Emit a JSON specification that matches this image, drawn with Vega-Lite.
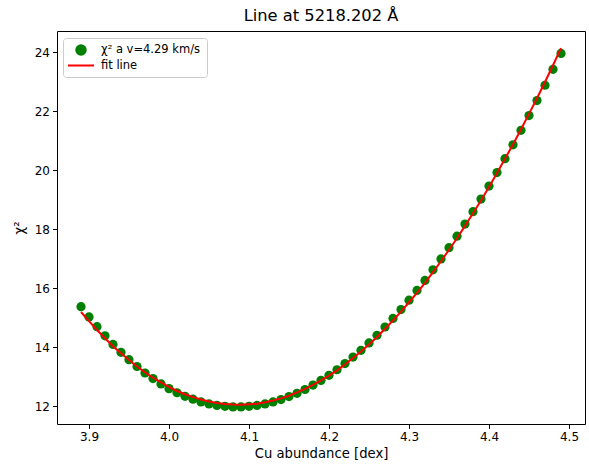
{
  "$schema": "https://vega.github.io/schema/vega-lite/v6.json",
  "autosize": "none",
  "width": 528,
  "height": 393,
  "padding": {"left": 57, "top": 31, "right": 4, "bottom": 44},
  "background": "white",
  "title": {"text": "Line at 5218.202 Å", "font": "DejaVu Sans", "fontSize": 16.3, "fontWeight": "normal", "color": "#000", "offset": 7},
  "data": {"values": [
    {"x": 3.89, "chi2": 15.37, "fit": 15.19},
    {"x": 3.90, "chi2": 15.02, "fit": 14.88},
    {"x": 3.91, "chi2": 14.69, "fit": 14.58},
    {"x": 3.92, "chi2": 14.38, "fit": 14.30},
    {"x": 3.93, "chi2": 14.09, "fit": 14.03},
    {"x": 3.94, "chi2": 13.82, "fit": 13.79},
    {"x": 3.95, "chi2": 13.57, "fit": 13.56},
    {"x": 3.96, "chi2": 13.34, "fit": 13.34},
    {"x": 3.97, "chi2": 13.12, "fit": 13.14},
    {"x": 3.98, "chi2": 12.93, "fit": 12.96},
    {"x": 3.99, "chi2": 12.75, "fit": 12.80},
    {"x": 4.00, "chi2": 12.59, "fit": 12.65},
    {"x": 4.01, "chi2": 12.45, "fit": 12.51},
    {"x": 4.02, "chi2": 12.33, "fit": 12.40},
    {"x": 4.03, "chi2": 12.23, "fit": 12.30},
    {"x": 4.04, "chi2": 12.14, "fit": 12.22},
    {"x": 4.05, "chi2": 12.07, "fit": 12.15},
    {"x": 4.06, "chi2": 12.02, "fit": 12.10},
    {"x": 4.07, "chi2": 11.99, "fit": 12.07},
    {"x": 4.08, "chi2": 11.97, "fit": 12.05},
    {"x": 4.09, "chi2": 11.97, "fit": 12.04},
    {"x": 4.10, "chi2": 11.99, "fit": 12.06},
    {"x": 4.11, "chi2": 12.02, "fit": 12.08},
    {"x": 4.12, "chi2": 12.07, "fit": 12.13},
    {"x": 4.13, "chi2": 12.14, "fit": 12.19},
    {"x": 4.14, "chi2": 12.22, "fit": 12.26},
    {"x": 4.15, "chi2": 12.32, "fit": 12.35},
    {"x": 4.16, "chi2": 12.43, "fit": 12.46},
    {"x": 4.17, "chi2": 12.56, "fit": 12.58},
    {"x": 4.18, "chi2": 12.71, "fit": 12.72},
    {"x": 4.19, "chi2": 12.87, "fit": 12.87},
    {"x": 4.20, "chi2": 13.04, "fit": 13.03},
    {"x": 4.21, "chi2": 13.23, "fit": 13.21},
    {"x": 4.22, "chi2": 13.44, "fit": 13.41},
    {"x": 4.23, "chi2": 13.66, "fit": 13.63},
    {"x": 4.24, "chi2": 13.89, "fit": 13.85},
    {"x": 4.25, "chi2": 14.14, "fit": 14.09},
    {"x": 4.26, "chi2": 14.40, "fit": 14.34},
    {"x": 4.27, "chi2": 14.68, "fit": 14.62},
    {"x": 4.28, "chi2": 14.97, "fit": 14.90},
    {"x": 4.29, "chi2": 15.27, "fit": 15.20},
    {"x": 4.30, "chi2": 15.59, "fit": 15.52},
    {"x": 4.31, "chi2": 15.92, "fit": 15.84},
    {"x": 4.32, "chi2": 16.26, "fit": 16.18},
    {"x": 4.33, "chi2": 16.62, "fit": 16.54},
    {"x": 4.34, "chi2": 16.99, "fit": 16.91},
    {"x": 4.35, "chi2": 17.37, "fit": 17.30},
    {"x": 4.36, "chi2": 17.76, "fit": 17.69},
    {"x": 4.37, "chi2": 18.17, "fit": 18.11},
    {"x": 4.38, "chi2": 18.59, "fit": 18.54},
    {"x": 4.39, "chi2": 19.02, "fit": 18.97},
    {"x": 4.40, "chi2": 19.46, "fit": 19.43},
    {"x": 4.41, "chi2": 19.92, "fit": 19.90},
    {"x": 4.42, "chi2": 20.39, "fit": 20.39},
    {"x": 4.43, "chi2": 20.86, "fit": 20.87},
    {"x": 4.44, "chi2": 21.35, "fit": 21.39},
    {"x": 4.45, "chi2": 21.85, "fit": 21.91},
    {"x": 4.46, "chi2": 22.36, "fit": 22.44},
    {"x": 4.47, "chi2": 22.88, "fit": 22.99},
    {"x": 4.48, "chi2": 23.42, "fit": 23.56},
    {"x": 4.49, "chi2": 23.96, "fit": 24.14}
  ]},
  "encoding": {
    "x": {
      "field": "x", "type": "quantitative",
      "scale": {"domain": [3.86, 4.52], "nice": false, "zero": false},
      "axis": {"title": "Cu abundance [dex]", "values": [3.9, 4.0, 4.1, 4.2, 4.3, 4.4, 4.5], "format": ".1f", "titlePadding": 5}
    }
  },
  "layer": [
    {
      "mark": {"type": "point", "filled": true, "opacity": 1, "size": 85, "shape": "circle"},
      "encoding": {
        "y": {
          "field": "chi2", "type": "quantitative",
          "scale": {"domain": [11.39, 24.72], "nice": false, "zero": false},
          "axis": {"title": "χ²", "values": [12, 14, 16, 18, 20, 22, 24], "titlePadding": 8}
        },
        "color": {"datum": "χ² a v=4.29 km/s", "type": "nominal",
          "scale": {"domain": ["χ² a v=4.29 km/s", "fit line"], "range": ["#008000", "#ff0000"]},
          "legend": {
            "title": null,
            "orient": "none",
            "legendX": 6,
            "legendY": 7,
            "encode": {"symbols": {"update": {
              "shape": {"signal": "datum.index === 1 ? 'stroke' : 'circle'"},
              "size": {"signal": "datum.index === 1 ? 676 : 90"},
              "fill": {"signal": "datum.index === 1 ? 'transparent' : '#008000'"},
              "stroke": {"signal": "datum.index === 1 ? '#ff0000' : 'transparent'"},
              "strokeWidth": {"value": 2},
              "opacity": {"value": 1}
            }}}
          }
        }
      }
    },
    {
      "mark": {"type": "line", "strokeWidth": 2},
      "encoding": {
        "y": {"field": "fit", "type": "quantitative"},
        "color": {"datum": "fit line", "type": "nominal",
          "legend": {
            "title": null,
            "orient": "none",
            "legendX": 6,
            "legendY": 7,
            "encode": {"symbols": {"update": {
              "shape": {"signal": "datum.index === 1 ? 'stroke' : 'circle'"},
              "size": {"signal": "datum.index === 1 ? 676 : 90"},
              "fill": {"signal": "datum.index === 1 ? 'transparent' : '#008000'"},
              "stroke": {"signal": "datum.index === 1 ? '#ff0000' : 'transparent'"},
              "strokeWidth": {"value": 2},
              "opacity": {"value": 1}
            }}}
          }
        }
      }
    }
  ],
  "config": {
    "view": {"stroke": "#000", "strokeWidth": 1},
    "axis": {
      "grid": false, "domain": false,
      "labelFont": "DejaVu Sans", "labelFontSize": 12, "labelColor": "#000",
      "titleFont": "DejaVu Sans", "titleFontSize": 13.2, "titleFontWeight": "normal", "titleColor": "#000",
      "tickColor": "#000", "tickSize": 4.5, "tickWidth": 1, "labelPadding": 3
    },
    "legend": {
      "fillColor": "white", "strokeColor": "#cccccc", "cornerRadius": 3, "padding": 6,
      "labelFont": "DejaVu Sans", "labelFontSize": 11.5, "labelColor": "#000",
      "symbolSize": 676, "symbolOffset": 6, "labelOffset": 14, "rowPadding": 0.5
    }
  }
}
